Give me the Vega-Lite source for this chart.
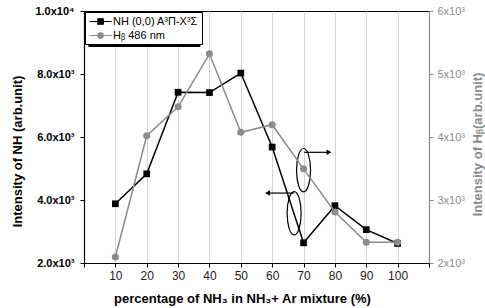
{
  "$schema": "https://vega.github.io/schema/vega-lite/v6.json",
  "width": 345,
  "height": 252,
  "autosize": "none",
  "padding": {"left": 84, "top": 11, "right": 56, "bottom": 45},
  "background": "white",
  "config": {
    "view": {"stroke": "black", "strokeWidth": 1},
    "font": "Liberation Sans"
  },
  "datasets": {
    "main": [
      {"pct": 10, "NH": 3880, "H": 2095},
      {"pct": 20, "NH": 4830, "H": 4020},
      {"pct": 30, "NH": 7420, "H": 4480},
      {"pct": 40, "NH": 7410, "H": 5320},
      {"pct": 50, "NH": 8030, "H": 4075},
      {"pct": 60, "NH": 5680, "H": 4195},
      {"pct": 70, "NH": 2640, "H": 3495},
      {"pct": 80, "NH": 3820, "H": 2810},
      {"pct": 90, "NH": 3060, "H": 2330},
      {"pct": 100, "NH": 2620, "H": 2330}
    ],
    "legendItems": [
      {"series": "NH (0,0) A³Π-X³Σ"},
      {"series": "Hᵦ 486 nm"}
    ],
    "shadow": [{"x1": 1.4, "x2": 37.1, "y1": 8857, "y2": 9905}],
    "ellipses": [{"x": 70, "y": 4946}, {"x": 67, "y": 3579}],
    "arrows": [
      {"x1": 70.2, "x2": 78.1, "y": 5514, "dir": "right"},
      {"x1": 67, "x2": 58.5, "y": 4220, "dir": "left"}
    ]
  },
  "layer": [
    {
      "layer": [
        {
          "data": {"name": "main"},
          "mark": {"type": "line", "color": "black", "strokeWidth": 1.5},
          "encoding": {
            "x": {
              "field": "pct", "type": "quantitative",
              "scale": {"domain": [0, 110], "nice": false, "zero": false},
              "axis": {
                "tickCount": 11,
                "labelExpr": "datum.value < 5 || datum.value > 105 ? '' : format(datum.value, 'd')",
                "labelOverlap": false, "labelFlush": false,
                "title": "percentage of NH₃ in NH₃+ Ar mixture (%)",
                "titleFont": "Liberation Sans", "titleFontSize": 13, "titleFontWeight": "bold", "titleColor": "black",
                "titleX": 158, "titleY": 35, "titleBaseline": "middle", "titleAlign": "center",
                "labelFontSize": 12, "labelColor": "#222", "labelFont": "Liberation Sans",
                "labelPadding": 3,
                "domainColor": "black", "domainWidth": 1.2,
                "tickColor": "black", "tickSize": 4,
                "grid": true, "gridColor": "#d4d4d4", "gridWidth": 1
              }
            },
            "y": {
              "field": "NH", "type": "quantitative",
              "scale": {"domain": [2000, 10000], "nice": false, "zero": false},
              "axis": {
                "values": [2000, 3000, 4000, 5000, 6000, 7000, 8000, 9000, 10000],
                "labelOverlap": false,
                "labelExpr": "datum.value % 2000 != 0 ? '' : (datum.value == 10000 ? '1.0x10⁴' : format(datum.value/1000, '.1f') + 'x10³')",
                "title": "Intensity of NH (arb.unit)",
                "titleFont": "Liberation Sans", "titleFontSize": 13, "titleFontWeight": "bold", "titleColor": "black",
                "titleX": -67, "titleY": 140, "titleBaseline": "middle", "titleAngle": -90, "titleAlign": "center",
                "labelFontSize": 11, "labelFontWeight": "bold", "labelColor": "black", "labelFont": "Liberation Sans",
                "labelPadding": 6,
                "domainColor": "black", "domainWidth": 1.2,
                "tickColor": "black", "tickSize": 4,
                "grid": false
              }
            }
          }
        },
        {
          "data": {"name": "main"},
          "mark": {"type": "point", "shape": "square", "filled": true, "color": "black", "size": 45, "opacity": 1},
          "encoding": {
            "x": {"field": "pct", "type": "quantitative"},
            "y": {"field": "NH", "type": "quantitative"}
          }
        },
        {
          "data": {"name": "shadow"},
          "mark": {"type": "rect", "color": "black"},
          "encoding": {
            "x": {"field": "x1", "type": "quantitative"},
            "x2": {"field": "x2"},
            "y": {"field": "y1", "type": "quantitative"},
            "y2": {"field": "y2"}
          }
        },
        {
          "data": {"name": "ellipses"},
          "mark": {"type": "point", "shape": "M0,-3.1 A1,3.1 0 1,1 0,3.1 A1,3.1 0 1,1 0,-3.1 Z", "filled": false, "color": "black", "size": 196, "strokeWidth": 1.2, "opacity": 1},
          "encoding": {
            "x": {"field": "x", "type": "quantitative"},
            "y": {"field": "y", "type": "quantitative"}
          }
        },
        {
          "data": {"name": "arrows"},
          "mark": {"type": "rule", "color": "black", "strokeWidth": 1.2},
          "encoding": {
            "x": {"field": "x1", "type": "quantitative"},
            "x2": {"field": "x2"},
            "y": {"field": "y", "type": "quantitative"}
          }
        },
        {
          "data": {"name": "arrows"},
          "transform": [{"filter": "datum.dir == 'right'"}],
          "mark": {"type": "point", "shape": "triangle-right", "filled": true, "color": "black", "size": 30, "opacity": 1},
          "encoding": {
            "x": {"field": "x2", "type": "quantitative"},
            "y": {"field": "y", "type": "quantitative"}
          }
        },
        {
          "data": {"name": "arrows"},
          "transform": [{"filter": "datum.dir == 'left'"}],
          "mark": {"type": "point", "shape": "triangle-left", "filled": true, "color": "black", "size": 30, "opacity": 1},
          "encoding": {
            "x": {"field": "x2", "type": "quantitative"},
            "y": {"field": "y", "type": "quantitative"}
          }
        },
        {
          "data": {"name": "legendItems"},
          "mark": {"type": "point", "filled": true, "opacity": 0},
          "encoding": {
            "color": {
              "field": "series", "type": "nominal",
              "scale": {"domain": ["NH (0,0) A³Π-X³Σ", "Hᵦ 486 nm"], "range": ["black", "#8c8c8c"]},
              "legend": {
                "title": null, "orient": "top-left", "offset": 1,
                "fillColor": "white", "strokeColor": "black",
                "padding": 3, "rowPadding": 2,
                "labelFontSize": 11, "labelFont": "Liberation Sans", "labelColor": "black",
                "symbolSize": 121, "symbolStrokeWidth": 1.2, "symbolOffset": 6, "labelOffset": 6,
                "encode": {"symbols": {"update": {"opacity": {"value": 1}, "stroke": {"signal": "scale('color', datum.value)"}}}}
              }
            },
            "shape": {
              "field": "series", "type": "nominal",
              "scale": {"domain": ["NH (0,0) A³Π-X³Σ", "Hᵦ 486 nm"], "range": [
                "M-2,0 L2,0 M-0.5,-0.5 L0.5,-0.5 L0.5,0.5 L-0.5,0.5 Z",
                "M-2,0 L2,0 M0.5,0 A0.5,0.5 0 1,1 -0.5,0 A0.5,0.5 0 1,1 0.5,0 Z"
              ]},
              "legend": {"title": null}
            }
          }
        }
      ]
    },
    {
      "layer": [
        {
          "data": {"name": "main"},
          "mark": {"type": "line", "color": "#8c8c8c", "strokeWidth": 1.5},
          "encoding": {
            "x": {"field": "pct", "type": "quantitative"},
            "y": {
              "field": "H", "type": "quantitative",
              "scale": {"domain": [2000, 6000], "nice": false, "zero": false},
              "axis": {
                "orient": "right",
                "values": [2000, 2500, 3000, 3500, 4000, 4500, 5000, 5500, 6000],
                "labelOverlap": false,
                "labelExpr": "datum.value % 1000 != 0 ? '' : format(datum.value/1000, 'd') + 'x10³'",
                "title": "Intensity of Hᵦ(arb.unit)",
                "titleFont": "Liberation Sans", "titleFontSize": 13, "titleFontWeight": "bold", "titleColor": "#8c8c8c",
                "titleX": 48, "titleY": 133, "titleBaseline": "middle", "titleAngle": -90, "titleAlign": "center",
                "labelFontSize": 11, "labelColor": "#8c8c8c", "labelFont": "Liberation Sans",
                "labelPadding": 4,
                "domainColor": "#8c8c8c", "domainWidth": 1.2,
                "tickColor": "#8c8c8c", "tickSize": 4,
                "grid": false
              }
            }
          }
        },
        {
          "data": {"name": "main"},
          "mark": {"type": "point", "shape": "circle", "filled": true, "color": "#8c8c8c", "size": 50, "opacity": 1},
          "encoding": {
            "x": {"field": "pct", "type": "quantitative"},
            "y": {"field": "H", "type": "quantitative"}
          }
        }
      ]
    }
  ],
  "resolve": {"scale": {"y": "independent"}}
}
